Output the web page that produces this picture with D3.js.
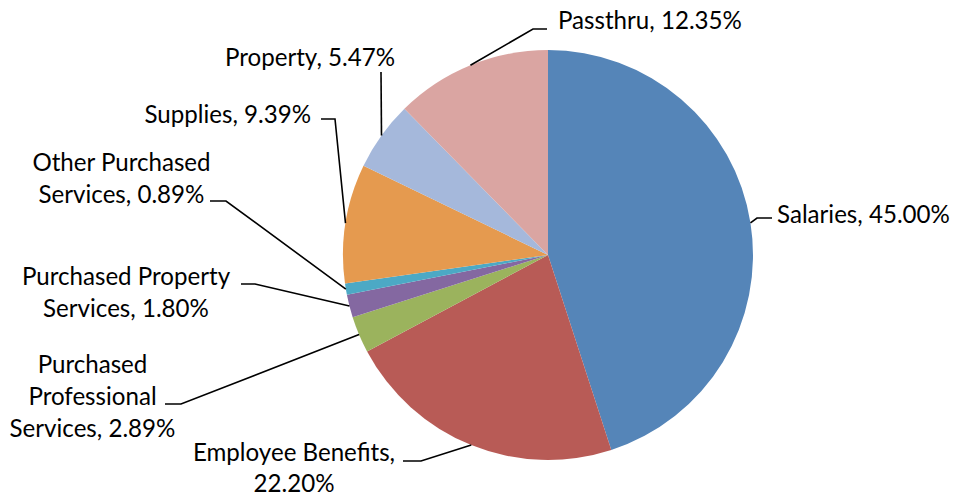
<!DOCTYPE html>
<html>
<head>
<meta charset="utf-8">
<script src="https://cdn.jsdelivr.net/npm/d3@7"></script>
<style>
  html, body { margin: 0; padding: 0; background: #fff; }
  svg { display: block; }
</style>
</head>
<body>
<svg id="chart" width="958" height="498"></svg>
<script>
// ---- data ----
const categories = ["Salaries", "Employee Benefits", "Purchased Professional Services",
  "Purchased Property Services", "Other Purchased Services", "Supplies", "Property", "Passthru"];
const values = [45.00, 22.20, 2.89, 1.80, 0.89, 9.39, 5.47, 12.35];
const colors = ["#5585B8", "#B85B56", "#9BB35D", "#8468A1", "#4CA9C5", "#E59A4F", "#A5B8DB", "#DAA5A2"];

// ---- layout (label placement, not data) ----
const layout = [
  { split: [3], anchor: "start", x: 777, y: 223, elbow: [757, 218], end: [772, 218] },
  { split: [2, 1], anchor: "middle", x: 294, y: 461, lh: 31, elbow: [421, 461], end: [403, 461] },
  { split: [1, 1, 2], anchor: "middle", x: 92.5, y: 373, elbow: [181, 404], end: [165, 404] },
  { split: [2, 2], anchor: "middle", x: 126, y: 285, elbow: [255, 284], end: [241, 284] },
  { split: [2, 2], anchor: "middle", x: 121.5, y: 171, elbow: [226, 201], end: [210, 201] },
  { split: [2], anchor: "end", x: 311, y: 123, elbow: [335, 119], end: [321, 119] },
  { split: [2], anchor: "end", x: 395, y: 66, elbow: [381, 72], end: [381, 72] },
  { split: [2], anchor: "start", x: 558, y: 29, elbow: [533, 29], end: [547, 29] }
];

const cx = 548, cy = 255, r = 205, lineH = 32;
const svg = d3.select("#chart");
const FONT = "Lato, 'Open Sans', sans-serif";

// fit font size to reference width of a label
const probe = svg.append("text").attr("font-family", FONT).attr("font-size", 100)
  .text("Salaries, 45.00%");
const fs = 100 * 173 / probe.node().getComputedTextLength();
probe.remove();

const pie = d3.pie().sort(null).value(d => d).startAngle(0).endAngle(2 * Math.PI);
const arcs = pie(values);
const arc = d3.arc().innerRadius(0).outerRadius(r);

const g = svg.append("g").attr("transform", `translate(${cx},${cy})`);
g.selectAll("path.slice").data(arcs).join("path")
  .attr("class", "slice")
  .attr("d", arc)
  .attr("fill", (d, i) => colors[i]);

// leader lines
const line = d3.line();
svg.selectAll("path.leader").data(arcs).join("path")
  .attr("class", "leader")
  .attr("fill", "none")
  .attr("stroke", "#000")
  .attr("stroke-width", 1.6)
  .attr("d", (d, i) => {
    const a = (d.startAngle + d.endAngle) / 2;
    const p = [cx + r * Math.sin(a), cy - r * Math.cos(a)];
    const L = layout[i];
    return line([p, L.elbow, L.end]);
  });

// labels
arcs.forEach((d, i) => {
  const L = layout[i];
  const words = `${categories[i]}, ${values[i].toFixed(2)}%`.split(" ");
  const lines = [];
  let k = 0;
  L.split.forEach(n => { lines.push(words.slice(k, k + n).join(" ")); k += n; });
  const t = svg.append("text")
    .attr("font-family", FONT)
    .attr("font-size", fs)
    .attr("fill", "#000")
    .attr("text-anchor", L.anchor);
  lines.forEach((s, j) => {
    t.append("tspan").attr("x", L.x).attr("y", L.y + j * (L.lh || lineH)).text(s);
  });
});
</script>
</body>
</html>
